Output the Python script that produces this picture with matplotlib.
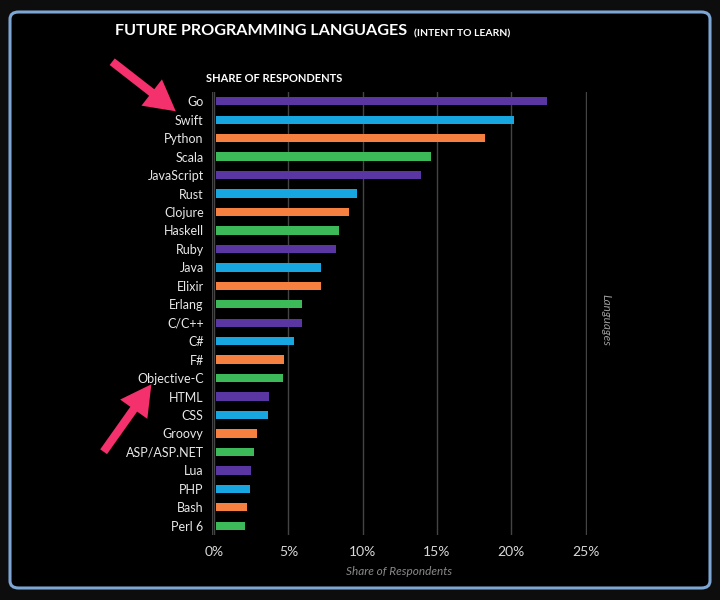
import matplotlib.pyplot as plt
from matplotlib.patches import FancyBboxPatch

plt.rcParams['font.family'] = ['Lato', 'DejaVu Sans']

languages = ['Go', 'Swift', 'Python', 'Scala', 'JavaScript', 'Rust', 'Clojure',
             'Haskell', 'Ruby', 'Java', 'Elixir', 'Erlang', 'C/C++', 'C#', 'F#',
             'Objective-C', 'HTML', 'CSS', 'Groovy', 'ASP/ASP.NET', 'Lua', 'PHP',
             'Bash', 'Perl 6']
share = [22.3, 20.1, 18.1, 14.5, 13.8, 9.5, 9.0, 8.3, 8.1, 7.1, 7.1, 5.8, 5.8,
         5.3, 4.6, 4.5, 3.6, 3.5, 2.8, 2.6, 2.4, 2.3, 2.1, 2.0]
xticks = [0, 5, 10, 15, 20, 25]
xtick_labels = ['0%', '5%', '10%', '15%', '20%', '25%']

palette = ['#5a36a2', '#17a6df', '#f5803f', '#3cba59']
colors = [palette[i % 4] for i in range(len(languages))]

W, H = 720, 600
fig = plt.figure(figsize=(W / 100, H / 100), dpi=100, facecolor='#0d0d0d')

# rounded light-blue frame, kept behind the axes
frame = FancyBboxPatch((10 / W, 12 / H), 700 / W, 576 / H,
                       boxstyle='round,pad=0,rounding_size=0.012',
                       transform=fig.transFigure, facecolor='black',
                       edgecolor='#7ea6d4', linewidth=2.2, zorder=-5)
fig.patches.append(frame)

ax = fig.add_axes([212 / W, 1 - 535 / H, 375 / W, 443 / H])
ax.set_facecolor('none')
y = list(range(len(languages)))
ax.barh(y, share, height=0.45, color=colors, left=0.1, zorder=3)
ax.set_ylim(len(languages) - 0.5, -0.5)
ax.set_xlim(-0.15, 25.1)
ax.set_yticks(y)
ax.set_yticklabels(languages, color='#e8e8e8', fontsize=9)
ax.set_xticks(xticks)
ax.set_xticklabels(xtick_labels, color='#d8d8d8', fontsize=10)
ax.tick_params(length=0, pad=6)
ax.tick_params(axis='x', pad=8)
for s in ax.spines.values():
    s.set_visible(False)
ax.grid(axis='x', color='#444444', linewidth=1.0, zorder=0)
ax.axvline(-0.15, color='#444444', linewidth=1.0, zorder=0)
ax.set_xlabel('Share of Respondents', color='#8a8a8a', fontsize=8.5,
              style='italic', labelpad=6)

title = fig.text(115 / W, 1 - 31 / H, 'FUTURE PROGRAMMING LANGUAGES',
                 color='white', fontsize=11.6, fontweight='bold',
                 va='center', ha='left')
# subtitle sits right after the title
ax.annotate('(INTENT TO LEARN)', xy=(1, 0), xycoords=title,
            xytext=(5, 0), textcoords='offset points', color='white',
            fontsize=7.5, fontweight='bold', va='bottom', ha='left')
fig.text(206 / W, 1 - 78 / H, 'SHARE OF RESPONDENTS', color='white',
         fontsize=8, fontweight='bold', va='center', ha='left')
fig.text(606 / W, 1 - 320 / H, 'Languages', color='#9a9a9a', fontsize=8.5,
         style='italic', rotation=-90, va='center', ha='center')

# pink arrows
arrow = dict(arrowstyle='simple,head_length=1.1,head_width=1.2,tail_width=0.3',
             color='#f4306d', linewidth=0, mutation_scale=20)
ax.annotate('', xy=(178 / W, 1 - 113 / H), xytext=(110 / W, 1 - 60 / H),
            xycoords='figure fraction', textcoords='figure fraction',
            arrowprops=arrow, annotation_clip=False)
ax.annotate('', xy=(153 / W, 1 - 382 / H), xytext=(102 / W, 1 - 454 / H),
            xycoords='figure fraction', textcoords='figure fraction',
            arrowprops=arrow, annotation_clip=False)

fig.savefig('out.png', dpi=100, facecolor=fig.get_facecolor())
